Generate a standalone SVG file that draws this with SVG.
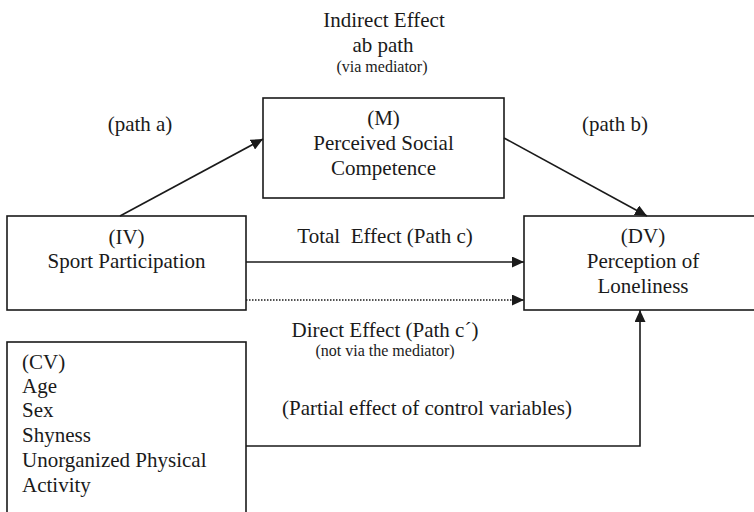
<svg xmlns="http://www.w3.org/2000/svg" width="754" height="512" viewBox="0 0 754 512">
<style>
text{font-family:'Liberation Serif','Times New Roman','DejaVu Serif',serif;fill:#1a1a1a;font-size:21px}
.c{text-anchor:middle}
.s{font-size:16px}
.box{fill:#fff;stroke:#1a1a1a;stroke-width:1.6}
.ln{fill:none;stroke:#1a1a1a;stroke-width:1.6}
.dot{fill:none;stroke:#1a1a1a;stroke-width:1.4;stroke-dasharray:1.5 1.5}
</style>
<defs>
<marker id="ah" markerUnits="userSpaceOnUse" markerWidth="13" markerHeight="11" refX="12" refY="5.5" orient="auto" viewBox="0 0 13 11">
<path d="M0,0 L12,5.5 L0,11 z" fill="#1a1a1a"/>
</marker>
</defs>
<rect width="754" height="512" fill="#fff"/>
<g id="labels" font-family="Liberation Serif, serif">
<text class="c" x="384" y="27">Indirect Effect</text>
<text class="c" x="383" y="52">ab path</text>
<text class="c s" x="382" y="72">(via mediator)</text>
<text class="c" x="140" y="131">(path a)</text>
<text class="c" x="615" y="131">(path b)</text>
<text class="c" x="385" y="243" xml:space="preserve">Total  Effect (Path c)</text>
<text class="c" x="385" y="337">Direct Effect (Path c´)</text>
<text class="c s" x="385" y="356">(not via the mediator)</text>
<text class="c" x="427" y="415">(Partial effect of control variables)</text>
</g>
<g id="node-M">
<rect class="box" x="263" y="98" width="241" height="100"/>
<text class="c" x="383.5" y="125">(M)</text>
<text class="c" x="383.5" y="150">Perceived Social</text>
<text class="c" x="383.5" y="175">Competence</text>
</g>
<g id="node-IV">
<rect class="box" x="7" y="216" width="239" height="94"/>
<text class="c" x="126.5" y="244">(IV)</text>
<text class="c" x="126.5" y="268">Sport Participation</text>
</g>
<g id="node-DV">
<rect class="box" x="524" y="216" width="240" height="94"/>
<text class="c" x="643" y="243">(DV)</text>
<text class="c" x="643" y="268">Perception of</text>
<text class="c" x="643" y="293">Loneliness</text>
</g>
<g id="node-CV">
<rect class="box" x="7" y="342" width="239" height="180"/>
<text x="22" y="369">(CV)</text>
<text x="22" y="393">Age</text>
<text x="22" y="417">Sex</text>
<text x="22" y="442">Shyness</text>
<text x="22" y="467">Unorganized Physical</text>
<text x="22" y="492">Activity</text>
</g>
<g id="connectors">
<line class="ln" x1="120" y1="216" x2="263" y2="139" marker-end="url(#ah)"/>
<line class="ln" x1="504" y1="138" x2="647" y2="216" marker-end="url(#ah)"/>
<line class="ln" x1="246" y1="262" x2="524" y2="262" marker-end="url(#ah)"/>
<line class="dot" x1="246" y1="300" x2="524" y2="300" marker-end="url(#ah)"/>
<polyline class="ln" points="246,446 640,446 640,310" marker-end="url(#ah)"/>
</g>
</svg>
